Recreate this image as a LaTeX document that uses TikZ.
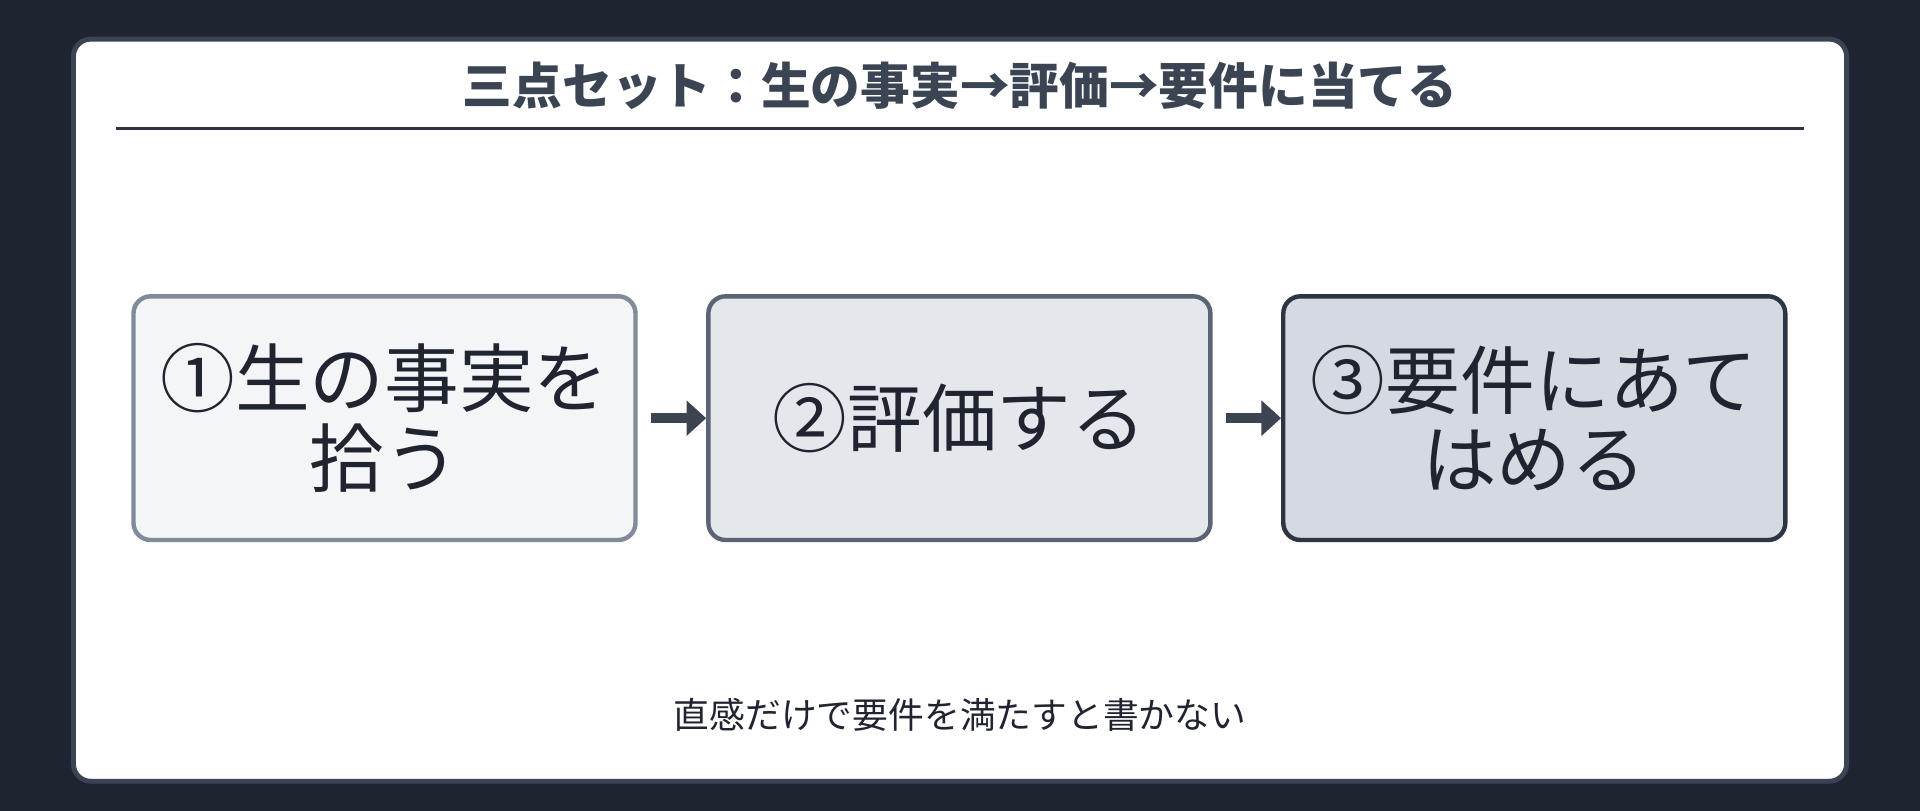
\documentclass[tikz,border=0pt]{standalone}
\usepackage{fontspec}
\setmainfont{Noto Sans CJK JP}
\newfontfamily\jpfont{Noto Sans CJK JP}
\usetikzlibrary{arrows.meta}
\definecolor{bgc}{HTML}{1E2530}
\definecolor{panelborder}{HTML}{3A4454}
\definecolor{titlec}{HTML}{3B4453}
\definecolor{rulec}{HTML}{2D3340}
\definecolor{txtc}{HTML}{1F2430}
\definecolor{fillA}{HTML}{F3F5F7}
\definecolor{fillB}{HTML}{E4E7EB}
\definecolor{fillC}{HTML}{D5D9E0}
\definecolor{bordA}{HTML}{828B99}
\definecolor{bordB}{HTML}{5A6474}
\definecolor{bordC}{HTML}{2D3544}
\definecolor{arrc}{HTML}{3D4451}
\tikzset{
  stepbox/.style={rounded corners=7pt, line width=1.8pt, minimum width=205pt, minimum height=99.5pt,
    align=center, text=txtc, inner sep=0pt,
    font=\jpfont\fontsize{30.5pt}{32.5pt}\selectfont},
  flowarrow/.style={line width=4pt, arrc, -{Triangle[length=8pt,width=14pt]}, shorten <=5.5pt},
}
\begin{document}
\begin{tikzpicture}[x=0.5pt,y=0.5pt]
\fill[bgc] (0,0) rectangle (1568,-662.3);
\useasboundingbox (0,0) rectangle (1568,-662.3);
\draw[panelborder, fill=white, line width=2pt, rounded corners=7pt] (60,-32) rectangle (1508,-638);
\node[font=\jpfont\bfseries\fontsize{20.3pt}{22pt}\selectfont, text=titlec, inner sep=0pt] (title) at (784,-70) {三点セット：生の事実→評価→要件に当てる};
\coordinate (ruleL) at (95,-105);
\coordinate (ruleR) at (1473,-105);
\draw[rulec, line width=1pt] (ruleL) -- (ruleR);
\node[stepbox, fill=fillA, draw=bordA] (b1) at (314,-341.5) {①生の事実を\\拾う};
\node[stepbox, fill=fillB, draw=bordB] (b2) at (783.5,-341.5) {②評価する};
\node[stepbox, fill=fillC, draw=bordC] (b3) at (1253,-341.5) {③要件にあて\\はめる};
\draw[flowarrow] (b1) -- (b2);
\draw[flowarrow] (b2) -- (b3);
\node[font=\jpfont\fontsize{14.6pt}{16pt}\selectfont, text=txtc, inner sep=0pt] (note) at (784,-584) {直感だけで要件を満たすと書かない};
\end{tikzpicture}
\end{document}
